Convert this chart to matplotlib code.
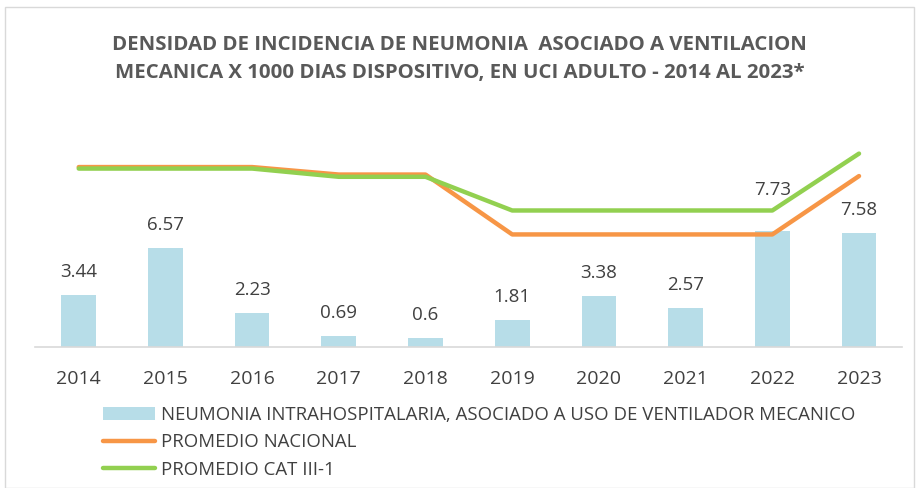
import numpy as np
import matplotlib
matplotlib.use("Agg")
import matplotlib.pyplot as plt
from matplotlib.patches import Rectangle

years = ["2014", "2015", "2016", "2017", "2018", "2019", "2020", "2021", "2022", "2023"]
neumonia = [3.44, 6.57, 2.23, 0.69, 0.6, 1.81, 3.38, 2.57, 7.73, 7.58]
prom_nacional = [12.0, 12.0, 12.0, 11.5, 11.5, 7.5, 7.5, 7.5, 7.5, 11.4]
prom_cat = [11.9, 11.9, 11.9, 11.35, 11.35, 9.1, 9.1, 9.1, 9.1, 12.9]

plt.rcParams["font.family"] = ["Open Sans", "DejaVu Sans"]

fig = plt.figure(figsize=(9.19, 4.88), dpi=100)
ax = fig.add_axes([0.0385, 0.2895, 0.9434, 0.4295])

x = np.arange(len(years))
bars = ax.bar(x, neumonia, width=0.4, color="#B7DDE8", zorder=2)
l1, = ax.plot(x, prom_nacional, color="#F79646", lw=3.2, solid_capstyle="round", zorder=3)
l2, = ax.plot(x, prom_cat, color="#92D050", lw=3.2, solid_capstyle="round", zorder=4)

# etiquetas de datos (la de 2022 va mas arriba para no chocar con la linea)
offsets = [23, 23, 23, 23, 23, 23, 23, 23, 41, 23]
for xi, v, off in zip(x, neumonia, offsets):
    ax.annotate(f"{v:g}", (xi, v), xytext=(0, off), textcoords="offset pixels",
                ha="center", va="center", fontsize=13.5, color="#404040")

ax.set_xlim(-0.5, 9.5)
ax.set_ylim(0, 14)
ax.set_xticks(x)
ax.set_xticklabels(years, fontsize=14, color="#404040")
ax.tick_params(axis="x", length=0, pad=17)
ax.set_yticks([])
for s in ["top", "right", "left"]:
    ax.spines[s].set_visible(False)
ax.spines["bottom"].set_color("#D9D9D9")
ax.spines["bottom"].set_linewidth(1.2)

fig.text(0.5, 0.908, "DENSIDAD DE INCIDENCIA DE NEUMONIA  ASOCIADO A VENTILACION", ha="center", va="center",
         fontsize=14.7, fontweight="bold", color="#595959")
fig.text(0.5, 0.851, "MECANICA X 1000 DIAS DISPOSITIVO, EN UCI ADULTO - 2014 AL 2023*", ha="center", va="center",
         fontsize=14.7, fontweight="bold", color="#595959")

leg = fig.legend([bars, l1, l2],
                 ["NEUMONIA INTRAHOSPITALARIA, ASOCIADO A USO DE VENTILADOR MECANICO",
                  "PROMEDIO NACIONAL", "PROMEDIO CAT III-1"],
                 loc="upper left", bbox_to_anchor=(0.112, 0.168), frameon=False, fontsize=13.4,
                 handlelength=2.8, handleheight=0.7, labelspacing=0.5, handletextpad=0.3,
                 borderaxespad=0, borderpad=0)
for t in leg.get_texts():
    t.set_color("#404040")

fig.patches.append(Rectangle((0.005, 0.0), 0.99, 0.985, transform=fig.transFigure,
                             fill=False, edgecolor="#D9D9D9", lw=1))

fig.savefig("out.png", dpi=100)
